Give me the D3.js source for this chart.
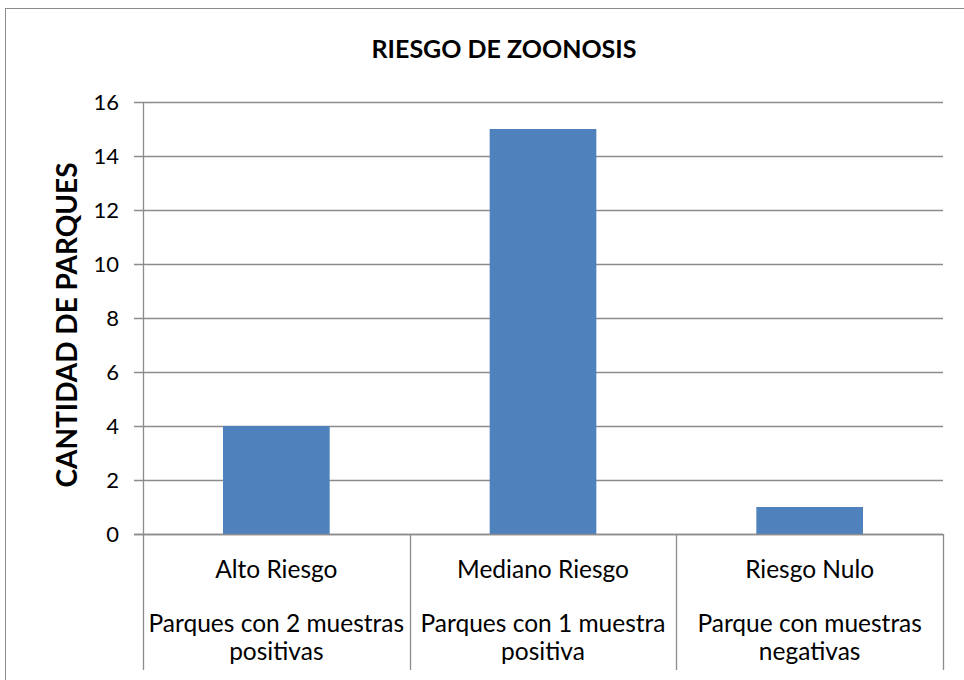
<!DOCTYPE html>
<html><head><meta charset="utf-8">
<script src="https://cdn.jsdelivr.net/npm/d3@7"></script>
<style>body{margin:0;background:#fff}svg{display:block}text{font-family:Lato,"Open Sans",sans-serif;fill:#000}</style>
</head><body>
<svg id="c" width="964" height="680"></svg>
<script>
const title = "RIESGO DE ZOONOSIS";
const yTitle = "CANTIDAD DE PARQUES";
const categories = ["Alto Riesgo", "Mediano Riesgo", "Riesgo Nulo"];
const subLabels = [["Parques con 2 muestras", "positivas"], ["Parques con 1 muestra", "positiva"], ["Parque con muestras", "negativas"]];
const values = [4, 15, 1];
const yTicks = [0, 2, 4, 6, 8, 10, 12, 14, 16];

const svg = d3.select("#c");
const L = 143, R = 943, T = 102, B = 534;
// outer frame
svg.append("rect").attr("x", 5.5).attr("y", 8.5).attr("width", 970).attr("height", 700)
  .attr("fill", "none").attr("stroke", "#8c8c8c").attr("stroke-width", 1);

const x = d3.scaleBand().domain(categories).range([L, R]).paddingInner(0).paddingOuter(0);
const y = d3.scaleLinear().domain([0, 16]).range([B, T]);

// gridlines
svg.append("g").selectAll("line").data(yTicks).join("line")
  .attr("x1", L - 9).attr("x2", R).attr("y1", d => Math.round(y(d)) + 0.5).attr("y2", d => Math.round(y(d)) + 0.5)
  .attr("stroke", "#8c8c8c").attr("stroke-width", 1.3);
// y axis line
svg.append("line").attr("x1", L + 0.5).attr("x2", L + 0.5).attr("y1", T).attr("y2", B).attr("stroke", "#8c8c8c").attr("stroke-width", 1.3);
// tick labels
svg.append("g").selectAll("text").data(yTicks).join("text")
  .attr("x", 119).attr("y", d => y(d)).attr("dy", "0.36em").attr("text-anchor", "end")
  .attr("font-size", 22).text(d => d);

// bars
const bw = x.bandwidth() * 0.4;
svg.append("g").selectAll("rect").data(values).join("rect")
  .attr("x", (d, i) => x(categories[i]) + (x.bandwidth() - bw) / 2)
  .attr("width", bw)
  .attr("y", d => y(d)).attr("height", d => B - y(d))
  .attr("fill", "#4F81BD");

// category dividers
const edges = categories.map(c => x(c)).concat([R]);
svg.append("g").selectAll("line").data(edges).join("line")
  .attr("x1", d => Math.round(d) + 0.5).attr("x2", d => Math.round(d) + 0.5).attr("y1", B).attr("y2", 670)
  .attr("stroke", "#8c8c8c").attr("stroke-width", 1.3);
// zero line drawn on top
svg.append("line").attr("x1", L - 9).attr("x2", R).attr("y1", Math.round(y(0)) + 0.5).attr("y2", Math.round(y(0)) + 0.5)
  .attr("stroke", "#8c8c8c").attr("stroke-width", 1.3);

// category labels
const cl = svg.append("g");
categories.forEach((c, i) => {
  const cx = x(c) + x.bandwidth() / 2;
  cl.append("text").attr("x", cx).attr("y", 578).attr("text-anchor", "middle").attr("font-size", 24.5).text(c);
  subLabels[i].forEach((s, j) => {
    cl.append("text").attr("x", cx).attr("y", 632 + j * 28).attr("text-anchor", "middle").attr("font-size", 24.5).text(s);
  });
});

// title
svg.append("text").attr("x", 504).attr("y", 58).attr("text-anchor", "middle")
  .attr("font-size", 25).attr("font-weight", "bold").text(title);
// y title
svg.append("text").attr("transform", "translate(77,325) rotate(-90)").attr("text-anchor", "middle")
  .attr("font-size", 28).attr("font-weight", "bold").text(yTitle);
</script>
</body></html>
